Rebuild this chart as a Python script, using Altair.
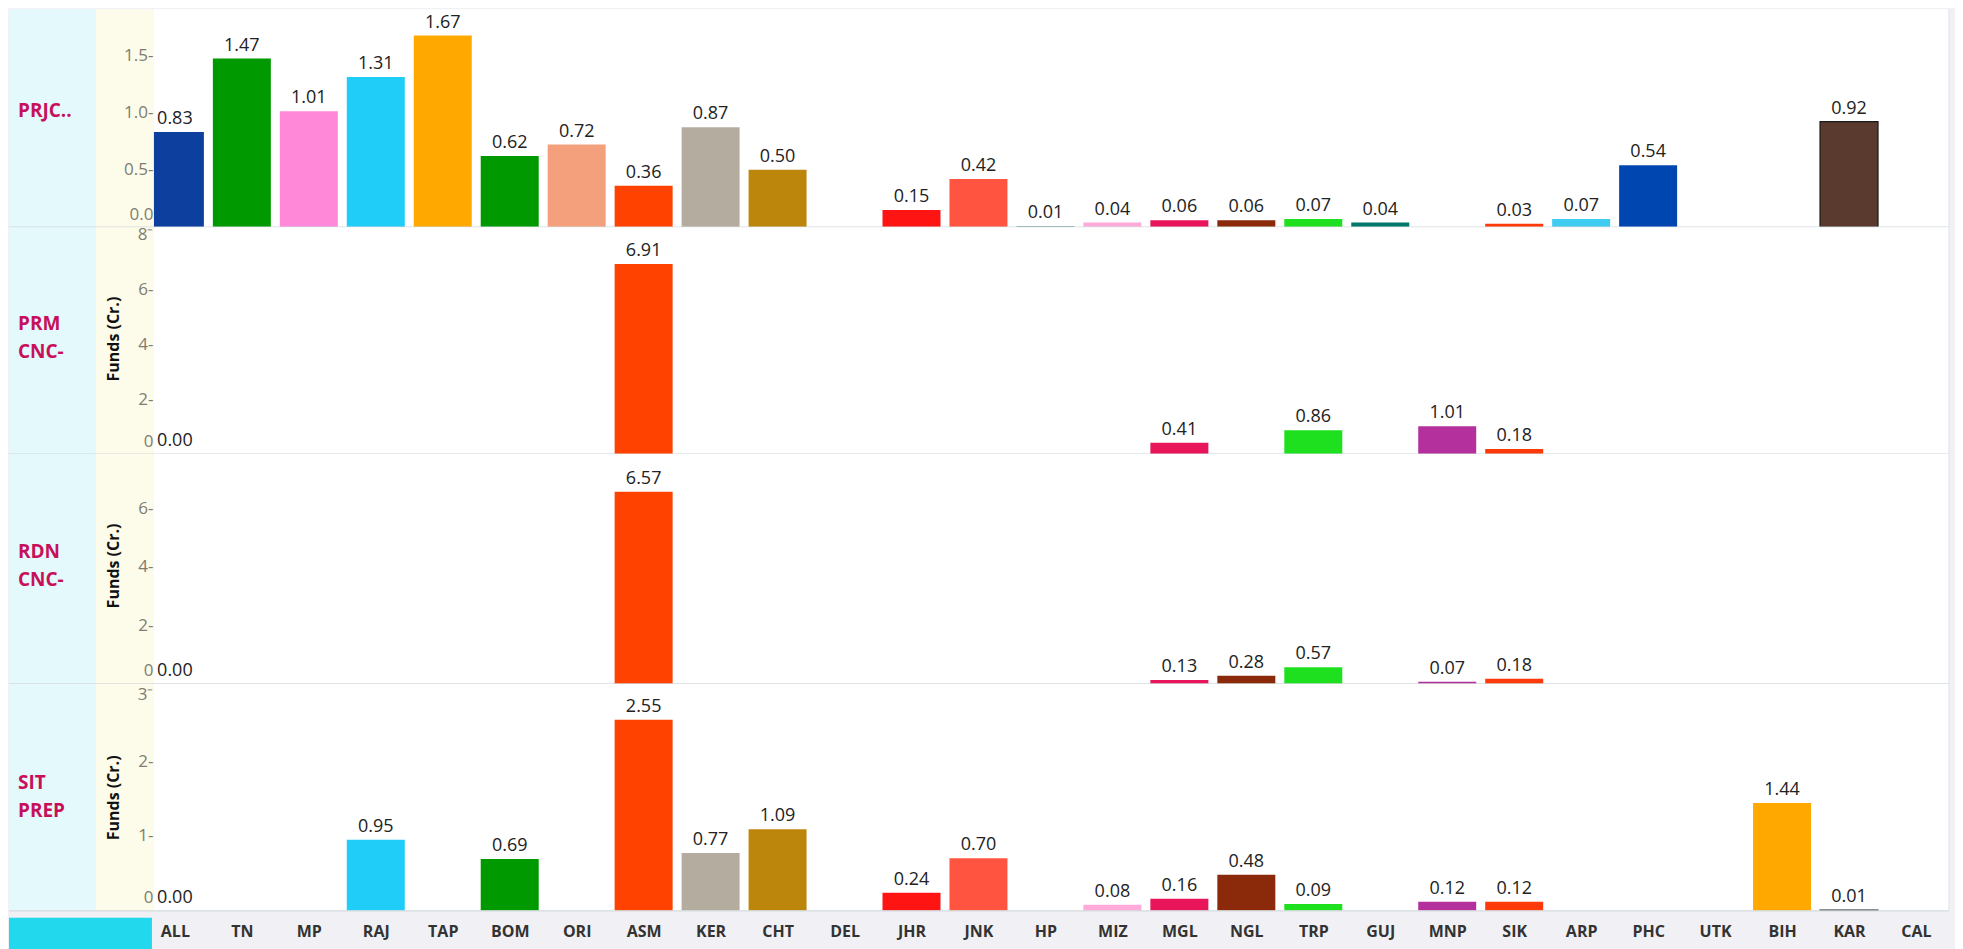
import altair as alt
import pandas as pd

# ---------------- data ----------------
states = ["ALL", "TN", "MP", "RAJ", "TAP", "BOM", "ORI", "ASM", "KER", "CHT", "DEL",
          "JHR", "JNK", "HP", "MIZ", "MGL", "NGL", "TRP", "GUJ", "MNP", "SIK", "ARP",
          "PHC", "UTK", "BIH", "KAR", "CAL"]
state_colors = ["#0d3f9f", "#009a00", "#ff88d8", "#20ccf8", "#ffa800", "#009a00", "#f5a07c",
                "#ff4200", "#b5aca0", "#bc860c", "#999999", "#ff1414", "#ff5540", "#6a9a9a",
                "#ffaad8", "#e8155a", "#8b2a0a", "#1ee01e", "#00786a", "#b4309c", "#ff3a0a",
                "#40ccf0", "#0046b0", "#888888", "#ffa800", "#5a3a2e", "#888888"]

prjc_states = ["ALL", "TN", "MP", "RAJ", "TAP", "BOM", "ORI", "ASM", "KER", "CHT", "JHR",
               "JNK", "HP", "MIZ", "MGL", "NGL", "TRP", "GUJ", "SIK", "ARP", "PHC", "KAR"]
prjc_values = [0.83, 1.47, 1.01, 1.31, 1.67, 0.62, 0.72, 0.36, 0.87, 0.50, 0.15,
               0.42, 0.01, 0.04, 0.06, 0.06, 0.07, 0.04, 0.03, 0.07, 0.54, 0.92]

prm_states = ["ALL", "ASM", "MGL", "TRP", "MNP", "SIK"]
prm_values = [0.00, 6.91, 0.41, 0.86, 1.01, 0.18]

rdn_states = ["ALL", "ASM", "MGL", "NGL", "TRP", "MNP", "SIK"]
rdn_values = [0.00, 6.57, 0.13, 0.28, 0.57, 0.07, 0.18]

sit_states = ["ALL", "RAJ", "BOM", "ASM", "KER", "CHT", "JHR", "JNK", "MIZ", "MGL", "NGL",
              "TRP", "MNP", "SIK", "BIH", "KAR"]
sit_values = [0.00, 0.95, 0.69, 2.55, 0.77, 1.09, 0.24, 0.70, 0.08, 0.16, 0.48,
              0.09, 0.12, 0.12, 1.44, 0.01]

row_labels = [["PRJC.."], ["PRM", "CNC-"], ["RDN", "CNC-"], ["SIT", "PREP"]]
y_title = "Funds (Cr.)"

# ---------------- layout ----------------
FONT = "Open Sans"
W = 1796            # plot width (page x 154 .. 1950)
LEFT = -145         # left edge of the label panel (page x 9)
X_DOMAIN = [-0.313, 26.493]   # column index scale: 67 px per column
HALF_BAR = 0.433

state_names_js = "[" + ",".join("'%s'" % s for s in states) + "]"


def make_row(lines, st, vals, h, dmax, ticks, fmt, top_tick, top_base, show_title,
             label_y, title_y, last):
    df = pd.DataFrame({"state": st, "value": vals,
                       "idx": [states.index(s) for s in st]})
    one = pd.DataFrame({"k": [0]})

    if last:
        xaxis = alt.Axis(values=list(range(len(states))),
                         labelExpr=state_names_js + "[datum.value]",
                         labelAngle=0, labelFont=FONT, labelFontSize=16,
                         labelFontWeight="bold", labelColor="#333333",
                         labelPadding=13, ticks=False, domain=False, title=None,
                         grid=False, labelFlush=False, labelOverlap=False)
    else:
        xaxis = None
    xscale = alt.Scale(domain=X_DOMAIN, nice=False, zero=False)

    label_expr = ("datum.value == 0 ? datum.label + '\u2007' : "
                  "(datum.value == %s ? datum.label + '\u207b' : datum.label + '-')" % top_tick)
    yscale = alt.Scale(domain=[0, dmax], nice=False, zero=True)
    yenc = alt.Y("value:Q", scale=yscale,
                 axis=alt.Axis(values=ticks, format=fmt, labelExpr=label_expr,
                               ticks=False, domain=False, grid=False,
                               labelFont=FONT, labelFontSize=17, labelColor="#7d7d72",
                               labelPadding=1, title=None, zindex=1,
                               labelOffset={"condition": {"test": "datum.value == 0",
                                                          "value": -4},
                                            "value": 0},
                               labelBaseline={"condition": [
                                   {"test": "datum.value == 0", "value": "bottom"},
                                   {"test": "datum.value == %s" % top_tick, "value": top_base}],
                                   "value": "middle"}),
                 title=None)

    color = alt.Color("state:N", scale=alt.Scale(domain=states, range=state_colors),
                      legend=None)

    base = alt.Chart(one)
    cyan_band = base.mark_rect(color="#e3f9fc").encode(
        x=alt.value(LEFT), x2=alt.value(-58), y=alt.value(0), y2=alt.value(h))
    yellow_band = base.mark_rect(color="#fdfbea").encode(
        x=alt.value(-58), x2=alt.value(0), y=alt.value(0), y2=alt.value(h))
    sep = base.mark_rule(color="#d3dadd", strokeWidth=1.2).encode(
        x=alt.value(LEFT), x2=alt.value(W), y=alt.value(h))
    right_edge = base.mark_rule(color="#dde4e7", strokeWidth=1).encode(
        x=alt.value(W), y=alt.value(0), y2=alt.value(h))
    row_lab = base.mark_text(align="left", baseline="middle", font=FONT, fontSize=19,
                             fontWeight="bold", color="#c8105a", lineHeight=28).encode(
        x=alt.value(-136), y=alt.value(label_y), text=alt.value(lines))

    bars = alt.Chart(df).transform_calculate(
        x0="datum.idx - %s" % HALF_BAR, x1="datum.idx + %s" % HALF_BAR, zero="0"
    ).mark_rect(strokeWidth=1.2, clip=True).encode(
        x=alt.X("x0:Q", scale=xscale, axis=xaxis, title=None),
        x2="x1:Q",
        y=yenc, y2="zero:Q", color=color,
        stroke=alt.condition("datum.state == 'KAR'", alt.value("#1a1a1a"),
                             alt.value("transparent")))
    labels = alt.Chart(df).mark_text(baseline="bottom", dy=-4, font=FONT, fontSize=18,
                                     color="#222222").encode(
        x=alt.X("idx:Q", scale=xscale, axis=xaxis, title=None),
        y=yenc, text=alt.Text("value:Q", format=".2f"))

    layers = [cyan_band, yellow_band, bars, labels, sep, right_edge, row_lab]
    if show_title:
        layers.append(base.mark_text(angle=270, baseline="middle", align="center",
                                     font=FONT, fontSize=16, fontWeight="bold",
                                     color="#111111").encode(
            x=alt.value(-40), y=alt.value(title_y), text=alt.value(y_title)))
    if last:
        layers.insert(0, base.mark_rect(color="#22d8ec").encode(
            x=alt.value(LEFT), x2=alt.value(-2), y=alt.value(h + 7),
            y2=alt.value(h + 39)))
    return alt.layer(*layers).properties(width=W, height=h)


r1 = make_row(row_labels[0], prjc_states, prjc_values, 218, 1.9, [0, 0.5, 1.0, 1.5],
              ".1f", -1, "middle", False, 102, 0, False)
r2 = make_row(row_labels[1], prm_states, prm_values, 227, 8.25, [0, 2, 4, 6, 8],
              "d", 8, "middle", True, 97, 112, False)
r3 = make_row(row_labels[2], rdn_states, rdn_values, 230, 7.86, [0, 2, 4, 6],
              "d", -1, "middle", True, 98, 112, False)
r4 = make_row(row_labels[3], sit_states, sit_values, 227, 3.03, [0, 1, 2, 3],
              "d", 3, "top", True, 99, 114, True)

chart = alt.vconcat(r1, r2, r3, r4, spacing=0, bounds="flush").resolve_scale(
    x="independent", y="independent", color="independent"
).properties(
    padding={"left": 0, "top": 0, "right": 5, "bottom": 0},
    background="#f1f1f5",
).configure_view(fill="white", stroke=None)

chart.save("out.html", embed_options={"renderer": "svg", "actions": False})
